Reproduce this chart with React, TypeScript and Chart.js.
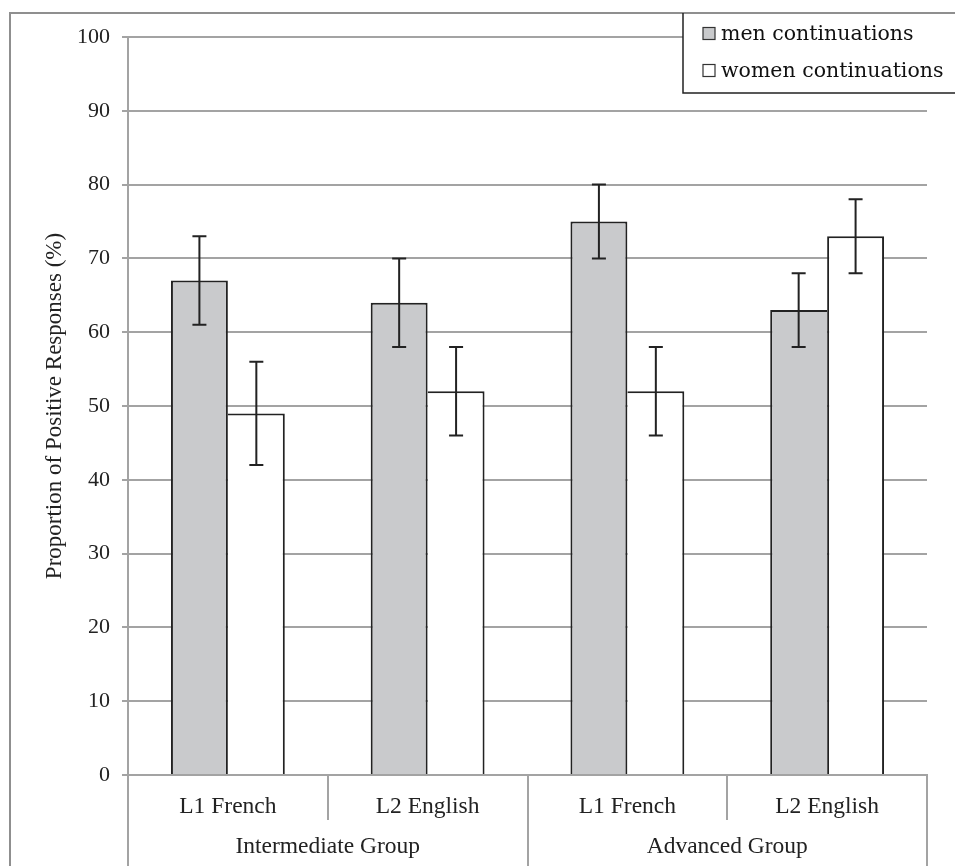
import React, { useEffect, useRef } from "react";
import { Chart, registerables } from "chart.js";

Chart.register(...registerables);

// ---- data ----
const subLabels = ["L1 French", "L2 English", "L1 French", "L2 English"];
const groupLabels = ["Intermediate Group", "Advanced Group"];
const seriesNames = ["men continuations", "women continuations"];
const menValues = [67, 64, 75, 63];
const womenValues = [49, 52, 52, 73];
const menLow = [61, 58, 70, 58];
const menHigh = [73, 70, 80, 68];
const womenLow = [42, 46, 46, 68];
const womenHigh = [56, 58, 58, 78];
const yMin = 0;
const yMax = 100;
const yStep = 10;
const yTitle = "Proportion of Positive Responses (%)";

// ---- styles ----
const SERIF = "'Liberation Serif', 'Times New Roman', serif";
const LEGEND_FONT = "'DejaVu Serif', serif";
const GRID = "#a3a3a3";
const INK = "#222222";
const MEN_FILL = "#c9cacc";
const WOMEN_FILL = "#ffffff";

const errorBarPlugin = {
  id: "errorBars",
  afterDatasetsDraw(chart: any) {
    const ctx = chart.ctx;
    const y = chart.scales.y;
    chart.data.datasets.forEach((ds: any, i: number) => {
      const meta = chart.getDatasetMeta(i);
      meta.data.forEach((el: any, j: number) => {
        const x = el.x;
        const hi = y.getPixelForValue(ds.errHigh[j]);
        const lo = y.getPixelForValue(ds.errLow[j]);
        ctx.save();
        ctx.strokeStyle = INK;
        ctx.lineWidth = 2;
        ctx.beginPath();
        ctx.moveTo(x, hi);
        ctx.lineTo(x, lo);
        ctx.moveTo(x - 7, hi);
        ctx.lineTo(x + 7, hi);
        ctx.moveTo(x - 7, lo);
        ctx.lineTo(x + 7, lo);
        ctx.stroke();
        ctx.restore();
      });
    });
  },
};

const framePlugin = {
  id: "frame",
  beforeDraw(chart: any) {
    const ctx = chart.ctx;
    ctx.save();
    ctx.fillStyle = "#ffffff";
    ctx.fillRect(0, 0, chart.width, chart.height);
    ctx.strokeStyle = "#8f8f8f";
    ctx.lineWidth = 2;
    ctx.beginPath();
    ctx.moveTo(10, chart.height + 2);
    ctx.lineTo(10, 13);
    ctx.lineTo(chart.width + 2, 13);
    ctx.stroke();
    ctx.restore();
  },
  afterDraw(chart: any) {
    const ctx = chart.ctx;
    ctx.save();
    const bx = 683;
    const by = 13;
    const bb = 93;
    ctx.fillStyle = "#ffffff";
    ctx.fillRect(bx, by, chart.width - bx + 2, bb - by);
    ctx.strokeStyle = "#8f8f8f";
    ctx.lineWidth = 2;
    ctx.beginPath();
    ctx.moveTo(bx, by);
    ctx.lineTo(chart.width + 2, by);
    ctx.stroke();
    ctx.strokeStyle = INK;
    ctx.lineWidth = 1.5;
    ctx.beginPath();
    ctx.moveTo(bx, by);
    ctx.lineTo(bx, bb);
    ctx.lineTo(chart.width + 2, bb);
    ctx.stroke();
    const rows = [33.5, 70.5];
    chart.data.datasets.forEach((ds: any, i: number) => {
      const cy = rows[i];
      ctx.fillStyle = ds.backgroundColor;
      ctx.fillRect(703, cy - 6, 12, 12);
      ctx.strokeStyle = "#333";
      ctx.lineWidth = 1.2;
      ctx.strokeRect(703, cy - 6, 12, 12);
      ctx.fillStyle = "#111";
      ctx.font = `20.5px ${LEGEND_FONT}`;
      ctx.textBaseline = "middle";
      ctx.textAlign = "left";
      ctx.fillText(ds.label, 721, cy + 1.5);
    });
    ctx.restore();
  },
};

export default function App() {
  const ref = useRef<HTMLCanvasElement>(null);
  useEffect(() => {
    document.body.style.margin = "0";
    const canvas = ref.current!;
    const chart = new Chart(canvas, {
      type: "bar",
      data: {
        labels: subLabels,
        datasets: [
          {
            label: seriesNames[0],
            data: menValues,
            backgroundColor: MEN_FILL,
            borderColor: INK,
            borderWidth: (c: any) => {
              const i = c.dataIndex;
              return menValues[i] < womenValues[i]
                ? { top: 2, left: 2, right: 0, bottom: 0 }
                : { top: 2, left: 2, right: 2, bottom: 0 };
            },
            borderSkipped: false,
            errLow: menLow,
            errHigh: menHigh,
          } as any,
          {
            label: seriesNames[1],
            data: womenValues,
            backgroundColor: WOMEN_FILL,
            borderColor: INK,
            borderWidth: (c: any) => {
              const i = c.dataIndex;
              return womenValues[i] <= menValues[i]
                ? { top: 2, left: 0, right: 2, bottom: 0 }
                : { top: 2, left: 2, right: 2, bottom: 0 };
            },
            borderSkipped: false,
            errLow: womenLow,
            errHigh: womenHigh,
          } as any,
        ],
      },
      options: {
        responsive: false,
        animation: false,
        devicePixelRatio: 1,
        categoryPercentage: 0.57,
        barPercentage: 1.0,
        layout: { padding: { left: 0, right: 28, top: 37, bottom: 0 } },
        plugins: {
          legend: { display: false },
          tooltip: { enabled: false },
        },
        scales: {
          y: {
            min: yMin,
            max: yMax,
            ticks: {
              stepSize: yStep,
              color: INK,
              padding: 12,
              font: { family: SERIF, size: 22 },
            },
            grid: { color: GRID, lineWidth: 2, tickLength: 6 },
            border: { color: GRID, width: 2 },
            title: {
              display: true,
              text: yTitle,
              color: INK,
              font: { family: SERIF, size: 23 },
              padding: { top: 41, bottom: 0 },
            },
            afterFit: (s: any) => {
              s.width = 128;
            },
          },
          x: {
            type: "category",
            position: "bottom",
            weight: 0,
            offset: true,
            grid: {
              offset: true,
              drawOnChartArea: false,
              drawTicks: true,
              tickLength: 45,
              color: GRID,
              lineWidth: 2,
            },
            border: { color: GRID, width: 2 },
            ticks: {
              color: INK,
              padding: -27,
              maxRotation: 0,
              font: { family: SERIF, size: 23.5 },
            },
            afterFit: (s: any) => {
              s.height = 45;
            },
          },
          x2: {
            type: "category",
            position: "bottom",
            weight: 1,
            offset: true,
            labels: groupLabels,
            grid: {
              offset: true,
              drawOnChartArea: false,
              drawTicks: true,
              tickLength: 50,
              color: GRID,
              lineWidth: 2,
            },
            border: { display: false },
            ticks: {
              color: INK,
              padding: -37,
              maxRotation: 0,
              font: { family: SERIF, size: 23.5 },
            },
            afterFit: (s: any) => {
              s.height = 46;
            },
          },
        },
      } as any,
      plugins: [framePlugin, errorBarPlugin],
    });
    return () => chart.destroy();
  }, []);
  return (
    <div style={{ width: 955, height: 866 }}>
      <canvas ref={ref} width={955} height={866} style={{ display: "block" }} />
    </div>
  );
}
